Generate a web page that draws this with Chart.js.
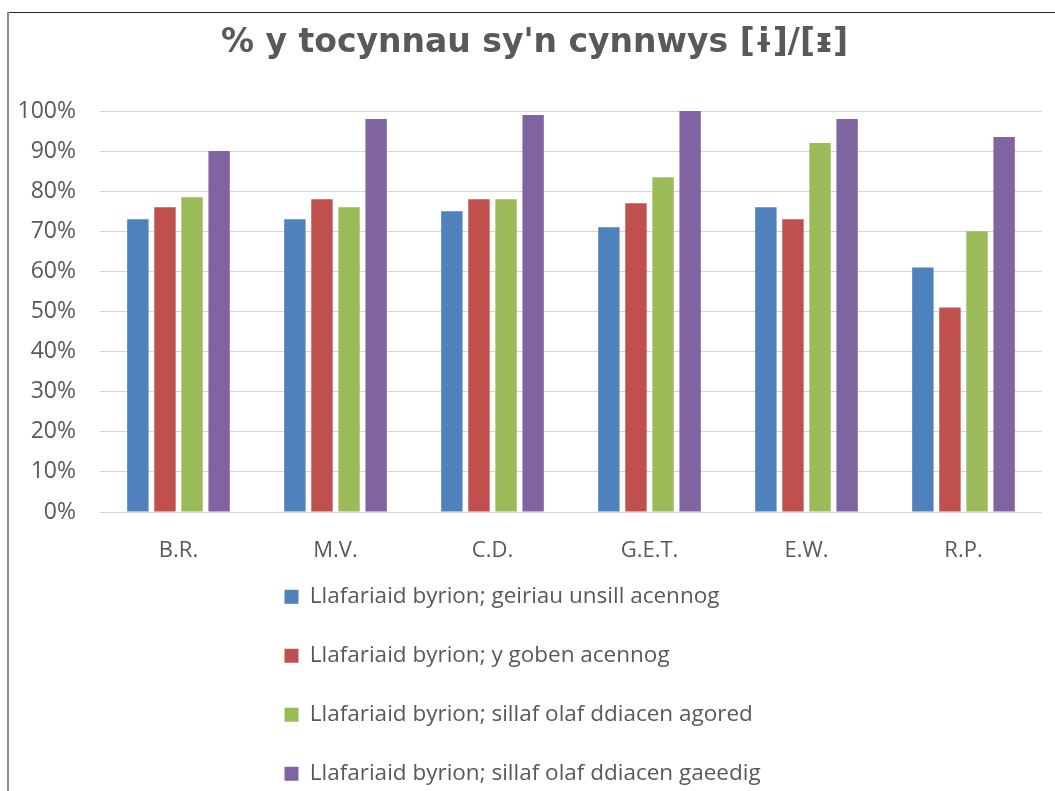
<!DOCTYPE html>
<html><head><meta charset="utf-8">
<script src="https://cdn.jsdelivr.net/npm/chart.js@4/dist/chart.umd.min.js"></script>
<style>
html,body{margin:0;padding:0;background:#fff;}
#wrap{position:relative;width:1055px;height:791px;overflow:hidden;background:#fff;}
canvas{position:absolute;left:0;top:0;}
.fr{position:absolute;}
</style></head><body>
<div id="wrap">
<canvas id="c" width="1055" height="791"></canvas>
<div class="fr" style="left:7px;top:12px;width:1048px;height:1px;background:#262626"></div>
<div class="fr" style="left:7px;top:12px;width:2px;height:779px;background:#8c8c8c"></div>
</div>
<script>
const titleText = "% y tocynnau sy'n cynnwys [ɨ]/[ᵻ]";
const categories = ['B.R.', 'M.V.', 'C.D.', 'G.E.T.', 'E.W.', 'R.P.'];
const seriesNames = [
  'Llafariaid byrion; geiriau unsill acennog',
  'Llafariaid byrion; y goben acennog',
  'Llafariaid byrion; sillaf olaf ddiacen agored',
  'Llafariaid byrion; sillaf olaf ddiacen gaeedig'
];
const unsillAcennog = [73, 73, 75, 71, 76, 61];
const gobenAcennog = [76, 78, 78, 77, 73, 51];
const olafAgored = [78.5, 76, 78, 83.5, 92, 70];
const olafGaeedig = [90, 98, 99, 100, 98, 93.5];
const yTickLabels = ['0%', '10%', '20%', '30%', '40%', '50%', '60%', '70%', '80%', '90%', '100%'];

const colors = ['#4F81BD', '#C0504D', '#9BBB59', '#8064A2'];
const textColor = '#595959';
const fam = "'Open Sans', 'Noto Sans', 'DejaVu Sans', sans-serif";
const titleFam = "'DejaVu Sans', 'Noto Sans', sans-serif";

const placeBoxes = {
  id: 'placeBoxes',
  afterLayout(chart) {
    const lg = chart.legend;
    if (lg) {
      lg.left = 248; lg.top = 549;
      lg.width = 780; lg.height = 400;
      lg.right = lg.left + lg.width; lg.bottom = lg.top + lg.height;
    }
    const tb = chart.titleBlock;
    if (tb) { tb.left = 14; tb.right = 1055; tb.width = 1041; }
  }
};

const seriesValues = [unsillAcennog, gobenAcennog, olafAgored, olafGaeedig];

new Chart(document.getElementById('c'), {
  type: 'bar',
  data: {
    labels: categories,
    datasets: seriesNames.map((name, i) => ({
      label: name,
      data: seriesValues[i],
      backgroundColor: colors[i],
      borderWidth: 0,
      categoryPercentage: 0.69,
      barPercentage: 0.79
    }))
  },
  plugins: [placeBoxes],
  options: {
    responsive: false,
    animation: false,
    layout: { padding: { left: 0, right: 13, top: 0, bottom: 219 } },
    plugins: {
      title: {
        display: true,
        text: titleText,
        color: '#595959',
        font: { family: titleFam, size: 33, weight: 'bold', lineHeight: 1.2 },
        padding: { top: 24, bottom: 47.4 }
      },
      legend: {
        position: 'chartArea',
        align: 'start',
        labels: {
          color: textColor,
          font: { family: fam, size: 22.5 },
          boxWidth: 14,
          boxHeight: 14,
          padding: 36.5
        }
      },
      tooltip: { enabled: false }
    },
    scales: {
      x: {
        grid: { display: false },
        border: { display: false },
        ticks: { color: textColor, font: { family: fam, size: 22 }, padding: 18 },
        afterFit(scale) { scale.height = 60; }
      },
      y: {
        min: 0, max: 100,
        grid: { color: '#D5D5D5', lineWidth: 1, drawTicks: false },
        border: { display: false },
        ticks: {
          stepSize: 10,
          color: textColor,
          font: { family: fam, size: 23 },
          padding: 24,
          callback: (v, i) => yTickLabels[i]
        },
        afterFit(scale) { scale.width = 100; }
      }
    }
  }
});
</script>
</body></html>
